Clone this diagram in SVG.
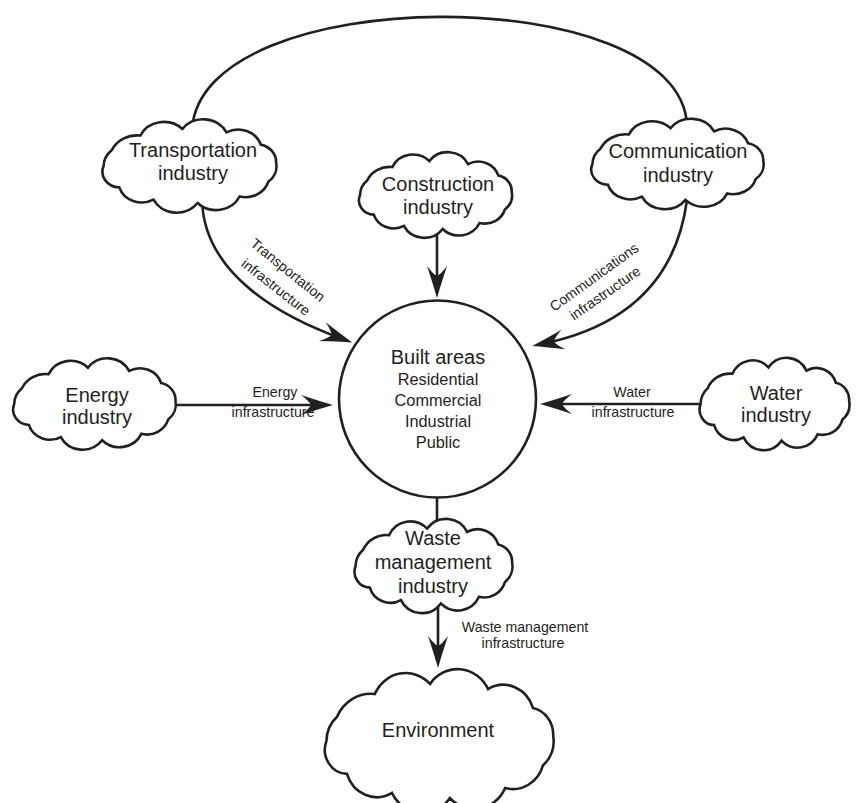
<svg xmlns="http://www.w3.org/2000/svg" xmlns:xlink="http://www.w3.org/1999/xlink" width="856" height="803" viewBox="0 0 856 803">
<style>
.ln{fill:none;stroke:#231f20;stroke-width:2.6}
.cl{fill:#fff;stroke:#231f20;stroke-width:2.6;vector-effect:non-scaling-stroke;stroke-linejoin:miter}
.big{font-family:"Liberation Sans",Arial,sans-serif;font-size:20px;fill:#231f20;text-anchor:middle}
.mid{font-family:"Liberation Sans",Arial,sans-serif;font-size:16.3px;fill:#231f20;text-anchor:middle}
.sm{font-family:"Liberation Sans",Arial,sans-serif;font-size:14.2px;fill:#231f20;text-anchor:middle}
</style>
<defs>
<marker id="ah" markerUnits="userSpaceOnUse" orient="auto" refX="0" refY="0" viewBox="-24 -12 36 24" markerWidth="36" markerHeight="24">
<path d="M10,0 Q-4,-4 -22,-10 Q-14,-4 -12,0 Q-14,4 -22,10 Q-4,4 10,0 Z" fill="#231f20"/>
</marker>
<path id="cloud" class="cl" d="M -80 0 A 22 22 0 0 1 -72.5 -16.1 A 26 26 0 0 1 -45.9 -31.1 A 24 24 0 0 1 -7 -37.8 A 24 24 0 0 1 33.8 -34.4 A 22 22 0 0 1 65.5 -21.8 A 18 18 0 0 1 79.7 -3.3 A 20 20 0 0 1 72.5 16.1 A 22 22 0 0 1 45.9 31.1 A 24 24 0 0 1 7 37.8 A 24 24 0 0 1 -33.8 34.4 A 22 22 0 0 1 -65.5 21.8 A 16 16 0 0 1 -80 0 Z"/>
</defs>
<rect width="856" height="803" fill="#fff"/>
<g id="connectors">
<path class="ln" d="M 192 130 C 200 -20, 680 -20, 687 125"/>
<path class="ln" d="M 437 230 L 437 288" marker-end="url(#ah)"/>
<path class="ln" d="M 202 200 C 204 275, 282 317, 343 339" marker-end="url(#ah)"/>
<path class="ln" d="M 687 200 C 675 290, 615 329, 542 344" marker-end="url(#ah)"/>
<path class="ln" d="M 175 405 L 323 405" marker-end="url(#ah)"/>
<path class="ln" d="M 705 404 L 550 404" marker-end="url(#ah)"/>
<path class="ln" d="M 437 495 L 437 528"/>
<path class="ln" d="M 438 605 L 438 658" marker-end="url(#ah)"/>
<text class="sm" transform="translate(288,270) rotate(39)" y="5">Transportation</text>
<text class="sm" transform="translate(276,287) rotate(38)" y="5">infrastructure</text>
<text class="sm" transform="translate(594,277) rotate(-36)" y="5">Communications</text>
<text class="sm" transform="translate(605,293) rotate(-35)" y="5">infrastructure</text>
<text class="sm" x="275" y="397">Energy</text>
<text class="sm" x="273" y="417">infrastructure</text>
<text class="sm" x="632" y="397">Water</text>
<text class="sm" x="633" y="417">infrastructure</text>
<text class="sm" x="525" y="632">Waste management</text>
<text class="sm" x="523" y="648">infrastructure</text>
</g>
<g id="built-areas">
<circle cx="437.5" cy="399" r="98.5" fill="#fff" stroke="#231f20" stroke-width="2.6"/>
<text class="big" x="438" y="364">Built areas</text>
<text class="mid" x="438" y="385">Residential</text>
<text class="mid" x="438" y="406">Commercial</text>
<text class="mid" x="438" y="427">Industrial</text>
<text class="mid" x="438" y="448">Public</text>
</g>
<g id="transportation-industry">
<use href="#cloud" transform="translate(190,166) scale(1.08,0.98)"/>
<text class="big" x="193" y="157">Transportation</text>
<text class="big" x="193" y="180">industry</text>
</g>
<g id="construction-industry">
<use href="#cloud" transform="translate(436,195) scale(0.95,0.9)"/>
<text class="big" x="438" y="191">Construction</text>
<text class="big" x="438" y="214">industry</text>
</g>
<g id="communication-industry">
<use href="#cloud" transform="translate(678,164) scale(1.07,0.95)"/>
<text class="big" x="678" y="158">Communication</text>
<text class="big" x="678" y="182">industry</text>
</g>
<g id="energy-industry">
<use href="#cloud" transform="translate(95,404) scale(1.01,0.96)"/>
<text class="big" x="97" y="402">Energy</text>
<text class="big" x="97" y="424">industry</text>
</g>
<g id="water-industry">
<use href="#cloud" transform="translate(775,404) scale(0.93,0.97)"/>
<text class="big" x="776" y="400">Water</text>
<text class="big" x="776" y="422">industry</text>
</g>
<g id="waste-management-industry">
<use href="#cloud" transform="translate(434,566) scale(0.98,0.99)"/>
<text class="big" x="433" y="545">Waste</text>
<text class="big" x="433" y="569">management</text>
<text class="big" x="433" y="593">industry</text>
</g>
<g id="environment">
<use href="#cloud" transform="translate(440,741) scale(1.42,1.51)"/>
<text class="big" x="438" y="737">Environment</text>
</g>
</svg>
